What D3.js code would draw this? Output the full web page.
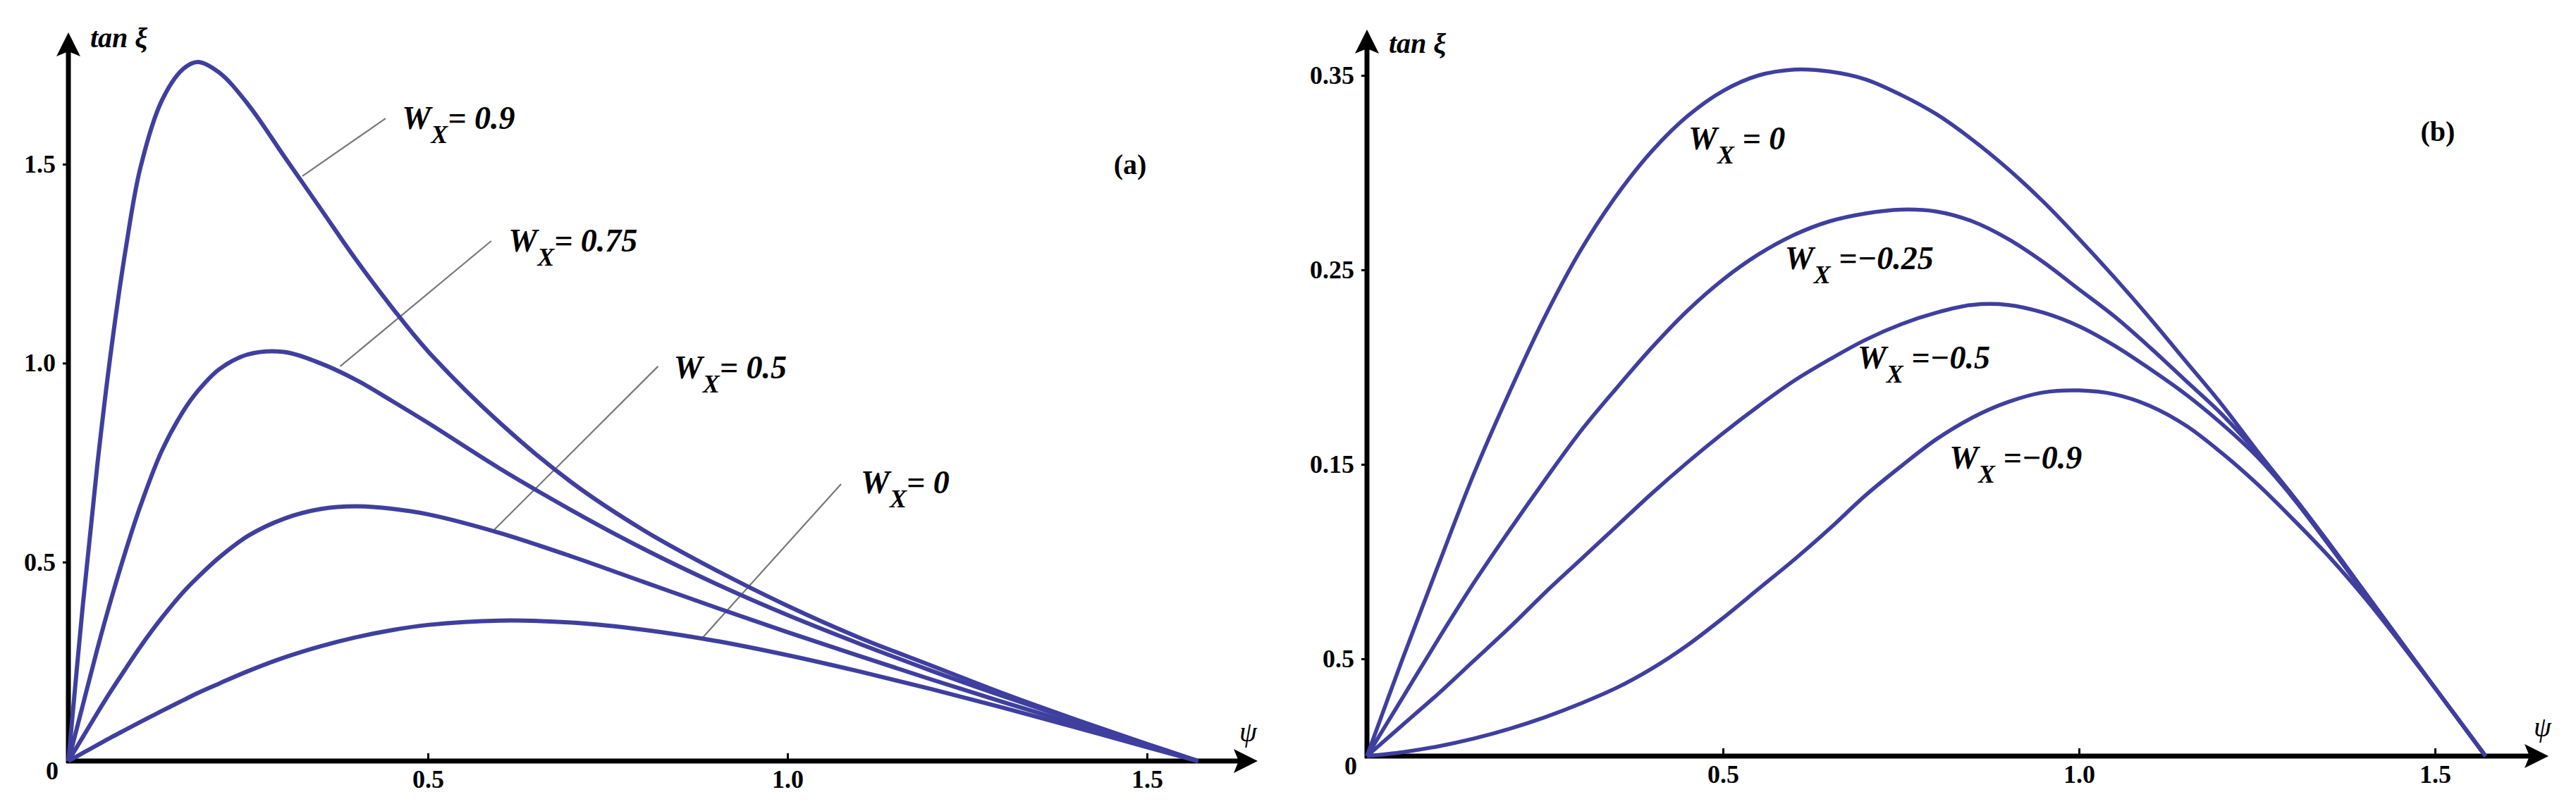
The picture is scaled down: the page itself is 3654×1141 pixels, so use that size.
<!DOCTYPE html>
<html>
<head>
<meta charset="utf-8">
<script src="https://cdn.jsdelivr.net/npm/d3@7"></script>
<style>
  body { margin: 0; background: #fff; }
  text { font-family: "Liberation Serif", "Times New Roman", serif; }
</style>
</head>
<body>
<div id="vis"></div>
<script>
/* Two panels of tan(xi) against psi for several W_X values. */

// ---- panel (a) data ----
var psiA = [0, 0.02, 0.04, 0.06, 0.08, 0.1, 0.13, 0.16, 0.18, 0.21, 0.25, 0.3, 0.35, 0.4, 0.45,
            0.5, 0.6, 0.7, 0.8, 0.9, 1.0, 1.1, 1.2, 1.3, 1.4, 1.5, 1.571];
var tanA_09  = [0, 0.39, 0.74, 1.04, 1.29, 1.49, 1.66, 1.74, 1.757, 1.73, 1.65, 1.52, 1.39, 1.26, 1.14,
                1.03, 0.85, 0.70, 0.58, 0.48, 0.39, 0.31, 0.24, 0.17, 0.105, 0.043, 0];
var tanA_075 = [0, 0.14, 0.28, 0.41, 0.53, 0.64, 0.78, 0.88, 0.93, 0.985, 1.022, 1.028, 1.0, 0.958, 0.905,
                0.85, 0.735, 0.63, 0.533, 0.446, 0.367, 0.295, 0.227, 0.163, 0.102, 0.042, 0];
var tanA_05  = [0, 0.06, 0.12, 0.178, 0.233, 0.287, 0.36, 0.425, 0.462, 0.512, 0.566, 0.609, 0.633, 0.64, 0.634,
                0.62, 0.573, 0.514, 0.45, 0.386, 0.324, 0.264, 0.205, 0.148, 0.093, 0.038, 0];
var tanA_0   = [0, 0.02, 0.04, 0.06, 0.079, 0.098, 0.126, 0.153, 0.171, 0.195, 0.226, 0.26, 0.288, 0.311, 0.329,
                0.342, 0.353, 0.348, 0.33, 0.302, 0.266, 0.225, 0.181, 0.134, 0.085, 0.035, 0];
var seriesA = [tanA_09, tanA_075, tanA_05, tanA_0];
var labelsA = ['= 0.9', '= 0.75', '= 0.5', '= 0'];
// label anchors and leader lines, in data units (psi, tan)
var labelPosA = [[0.464, 1.588], [0.612, 1.280], [0.842, 0.962], [1.102, 0.673]];
var leadersA = [[[0.441, 1.615], [0.3255, 1.47]],
                [[0.588, 1.307], [0.378, 0.992]],
                [[0.820, 0.992], [0.591, 0.579]],
                [[1.0745, 0.696], [0.882, 0.310]]];
var xTicksA = [0.5, 1.0, 1.5];
var yTicksA = [0.5, 1.0, 1.5];

// ---- panel (b) data ----
var psiB = [0, 0.05, 0.1, 0.15, 0.2, 0.25, 0.3, 0.35, 0.4, 0.45, 0.5, 0.55, 0.6, 0.65, 0.7, 0.75,
            0.8, 0.85, 0.9, 0.95, 1.0, 1.05, 1.1, 1.15, 1.2, 1.25, 1.3, 1.35, 1.4, 1.45, 1.5, 1.571];
var tanB_0   = [0, 0.05, 0.098, 0.145, 0.187, 0.226, 0.26, 0.288, 0.311, 0.329, 0.342, 0.35, 0.353, 0.352, 0.348, 0.34,
                0.33, 0.317, 0.302, 0.285, 0.266, 0.246, 0.225, 0.203, 0.181, 0.157, 0.134, 0.11, 0.085, 0.06, 0.035, 0];
var tanB_025 = [0, 0.03, 0.06, 0.089, 0.116, 0.142, 0.167, 0.189, 0.21, 0.229, 0.245, 0.258, 0.268, 0.275, 0.279, 0.281,
                0.28, 0.275, 0.266, 0.254, 0.24, 0.226, 0.21, 0.193, 0.176, 0.156, 0.134, 0.11, 0.085, 0.06, 0.035, 0];
var tanB_05  = [0, 0.016, 0.032, 0.049, 0.066, 0.084, 0.101, 0.118, 0.135, 0.151, 0.166, 0.18, 0.193, 0.204, 0.214, 0.222,
                0.228, 0.232, 0.232, 0.228, 0.221, 0.211, 0.199, 0.186, 0.171, 0.154, 0.133, 0.109, 0.084, 0.059, 0.035, 0];
var tanB_09  = [0, 0.002, 0.005, 0.009, 0.014, 0.02, 0.027, 0.035, 0.045, 0.057, 0.071, 0.086, 0.101, 0.117, 0.134, 0.149,
                0.163, 0.174, 0.182, 0.187, 0.188, 0.186, 0.18, 0.17, 0.156, 0.14, 0.122, 0.103, 0.082, 0.059, 0.035, 0];
var seriesB = [tanB_0, tanB_025, tanB_05, tanB_09];
var labelsB = [' = 0', ' =\u22120.25', ' =\u22120.5', ' =\u22120.9'];
var labelPosB = [[0.4515, 0.312], [0.587, 0.2504], [0.689, 0.1993], [0.818, 0.1478]];
var xTicksB = [0.5, 1.0, 1.5];
var yTicksB = [0.05, 0.15, 0.25, 0.35];
var yTickLabelsB = ['0.5', '0.15', '0.25', '0.35'];

// ---- layout ----
var width = 3654, height = 1141;
var lineColor = '#3f3f9f';

var svg = d3.select('#vis').append('svg')
    .attr('width', width)
    .attr('height', height)
    .style('background', '#fff');

// arrow head used by both axes
svg.append('defs').append('marker')
    .attr('id', 'arrow')
    .attr('markerUnits', 'userSpaceOnUse')
    .attr('viewBox', '-36 -20 40 40')
    .attr('markerWidth', 40)
    .attr('markerHeight', 40)
    .attr('refX', -18)
    .attr('refY', 0)
    .attr('orient', 'auto')
  .append('path')
    .attr('d', 'M0,0 L-34,-17 L-27,0 L-34,17 Z')
    .attr('fill', '#000');

function drawPanel(opt) {
    var x = d3.scaleLinear().domain([0, 1]).range(opt.xRange);
    var y = d3.scaleLinear().domain(opt.yDomain).range(opt.yRange);
    var g = svg.append('g');

    // axis lines with arrows
    g.append('line')
        .attr('x1', x(0) - 3).attr('y1', y(0))
        .attr('x2', opt.xTip - 18).attr('y2', y(0))
        .attr('stroke', '#000').attr('stroke-width', 7)
        .attr('marker-end', 'url(#arrow)');
    g.append('line')
        .attr('x1', x(0)).attr('y1', y(0) + 3)
        .attr('x2', x(0)).attr('y2', opt.yTip + 18)
        .attr('stroke', '#000').attr('stroke-width', 7)
        .attr('marker-end', 'url(#arrow)');

    // ticks
    var xAxis = d3.axisBottom(x)
        .tickValues(opt.xTicks)
        .tickFormat(d3.format('.1f'))
        .tickSizeInner(-11)
        .tickSizeOuter(0)
        .tickPadding(12);
    var gx = g.append('g').attr('transform', 'translate(0,' + y(0) + ')').call(xAxis);

    var yAxis = d3.axisLeft(y)
        .tickValues(opt.yTicks)
        .tickFormat(function(d, i) { return opt.yTickLabels[i]; })
        .tickSizeInner(8)
        .tickSizeOuter(0)
        .tickPadding(10);
    var gy = g.append('g').attr('transform', 'translate(' + x(0) + ',0)').call(yAxis);

    [gx, gy].forEach(function(a) {
        a.select('.domain').remove();
        a.selectAll('line').attr('stroke', '#000').attr('stroke-width', 3);
        a.selectAll('text')
            .attr('fill', '#000')
            .style('font-family', '"Liberation Serif", serif')
            .style('font-size', '36px')
            .style('font-weight', 'bold');
    });

    // origin label
    g.append('text')
        .attr('x', x(0) - 14).attr('y', y(0) + 26)
        .attr('text-anchor', 'end')
        .style('font-size', '36px').style('font-weight', 'bold')
        .text('0');

    // axis titles
    g.append('text')
        .attr('x', opt.tanPos[0]).attr('y', opt.tanPos[1])
        .style('font-size', '40px').style('font-weight', 'bold').style('font-style', 'italic')
        .text('tan \u03be');
    g.append('text')
        .attr('x', opt.psiPos[0]).attr('y', opt.psiPos[1])
        .style('font-size', '40px').style('font-style', 'italic')
        .text('\u03c8');

    // panel letter
    g.append('text')
        .attr('x', opt.letterPos[0]).attr('y', opt.letterPos[1])
        .attr('text-anchor', 'middle')
        .style('font-size', '40px').style('font-weight', 'bold')
        .text(opt.letter);

    // leader lines
    if (opt.leaders) {
        g.selectAll('line.leader').data(opt.leaders).enter()
            .append('line').attr('class', 'leader')
            .attr('x1', function(d) { return x(d[0][0]); })
            .attr('y1', function(d) { return y(d[0][1]); })
            .attr('x2', function(d) { return x(d[1][0]); })
            .attr('y2', function(d) { return y(d[1][1]); })
            .attr('stroke', '#777')
            .attr('stroke-width', 2.2);
    }

    // curves
    var line = d3.line()
        .x(function(d) { return x(d[0]); })
        .y(function(d) { return y(d[1]); })
        .curve(d3.curveCatmullRom.alpha(0.5));
    g.selectAll('path.curve').data(opt.series).enter()
        .append('path').attr('class', 'curve')
        .attr('d', function(vals) { return line(opt.psi.map(function(p, i) { return [p, vals[i]]; })); })
        .attr('fill', 'none')
        .attr('stroke', lineColor)
        .attr('stroke-width', opt.lineWidth)
        .attr('stroke-linejoin', 'round');

    // W_X labels
    opt.labels.forEach(function(lab, i) {
        var t = g.append('text')
            .attr('x', x(opt.labelPos[i][0]))
            .attr('y', y(opt.labelPos[i][1]))
            .style('font-size', '46px')
            .style('font-weight', 'bold')
            .style('font-style', 'italic');
        t.append('tspan').text('W');
        t.append('tspan').attr('dy', 20).style('font-size', '36px').text('X');
        t.append('tspan').attr('dy', -20).text(lab);
    });
}

drawPanel({
    xRange: [97, 1117], yDomain: [0, 1.5], yRange: [1080, 233],
    xTip: 1784, yTip: 46,
    xTicks: xTicksA, yTicks: yTicksA, yTickLabels: ['0.5', '1.0', '1.5'],
    psi: psiA, series: seriesA, lineWidth: 6,
    labels: labelsA, labelPos: labelPosA, leaders: leadersA,
    tanPos: [128, 67], psiPos: [1758, 1052], letterPos: [1603, 247], letter: '(a)'
});

drawPanel({
    xRange: [1939, 2949], yDomain: [0, 0.35], yRange: [1073, 107],
    xTip: 3615, yTip: 42,
    xTicks: xTicksB, yTicks: yTicksB, yTickLabels: yTickLabelsB,
    psi: psiB, series: seriesB, lineWidth: 5.5,
    labels: labelsB, labelPos: labelPosB, leaders: null,
    tanPos: [1970, 75], psiPos: [3594, 1045], letterPos: [3458, 200], letter: '(b)'
});
</script>
</body>
</html>
